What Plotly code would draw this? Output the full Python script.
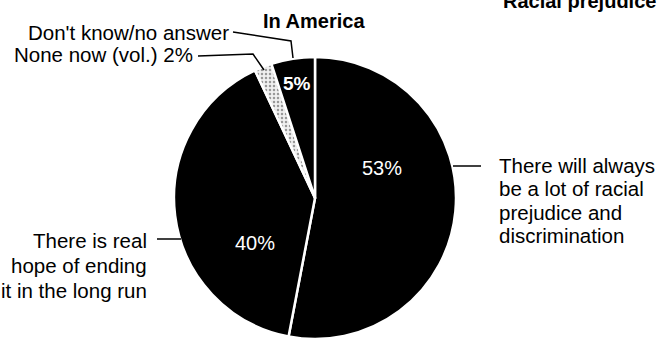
import plotly.graph_objects as go

W, H = 660, 339

# Data
labels = [
    "There will always be a lot of racial prejudice and discrimination",
    "There is real hope of ending it in the long run",
    "None now (vol.)",
    "Don't know/no answer",
]
values = [53, 40, 2, 5]
title_text = "In America"
header_text = "Racial prejudice"

FONT = "Liberation Sans, Arial, Helvetica, sans-serif"


def px(x):
    return x / W


def py(y):
    return 1 - y / H


fig = go.Figure()
fig.add_trace(go.Pie(
    labels=labels,
    values=values,
    sort=False,
    direction="clockwise",
    rotation=0,
    textinfo="none",
    hoverinfo="label+percent",
    showlegend=False,
    marker=dict(
        colors=["#000000", "#000000", "#f0f0f0", "#000000"],
        line=dict(color="white", width=2.5),
        pattern=dict(shape=["", "", ".", ""], fgcolor="#999999",
                     bgcolor="#f0f0f0", size=4, solidity=0.3),
    ),
    domain=dict(x=[px(174), px(456)], y=[0, py(57)]),
))

ann = []


def text(x, y, t, anchor="left", size=20.5, color="black", bold=False):
    ann.append(dict(
        x=px(x), y=py(y), xref="paper", yref="paper", text=(f"<b>{t}</b>" if bold else t),
        showarrow=False, xanchor=anchor, yanchor="middle",
        font=dict(family=FONT, size=size, color=color),
    ))


# Title and header
text(314, 21, title_text, anchor="center", size=20, bold=True)
text(658, 1, header_text, anchor="right", size=20, bold=True)

# Outside labels
text(231, 32, "Don't know/no answer", anchor="right")
text(195, 55, f"None now (vol.) {values[2]}%", anchor="right")
for i, line in enumerate(["There will always", "be a lot of racial", "prejudice and", "discrimination"]):
    text(497, 165 + i * 23.5, line, anchor="left")
for i, line in enumerate(["There is real", "hope of ending", "it in the long run"]):
    text(149, 240 + i * 25, line, anchor="right")

# In-slice percentage labels
text(382, 168, f"{values[0]}%", anchor="center", size=20, color="white")
text(255, 243, f"{values[1]}%", anchor="center", size=20, color="white")
text(297, 83, f"{values[3]}%", anchor="center", size=19, color="white", bold=True)

shapes = []


def leader(points):
    d = "M " + " L ".join(f"{px(x)},{py(y)}" for x, y in points)
    shapes.append(dict(type="path", xref="paper", yref="paper", path=d,
                       line=dict(color="black", width=1.5)))


leader([(233, 32), (291, 41), (293, 58)])
leader([(198, 56), (253, 54), (264, 70)])
leader([(453, 166), (481, 166)])
leader([(157, 239), (181, 239)])

fig.update_layout(
    width=W, height=H,
    margin=dict(l=0, r=0, t=0, b=0),
    paper_bgcolor="white", plot_bgcolor="white",
    annotations=ann, shapes=shapes,
)

fig.write_html(
    "out.html",
    config={"displayModeBar": False},
    post_script="document.body.style.margin='0';document.body.style.overflow='hidden';",
)
